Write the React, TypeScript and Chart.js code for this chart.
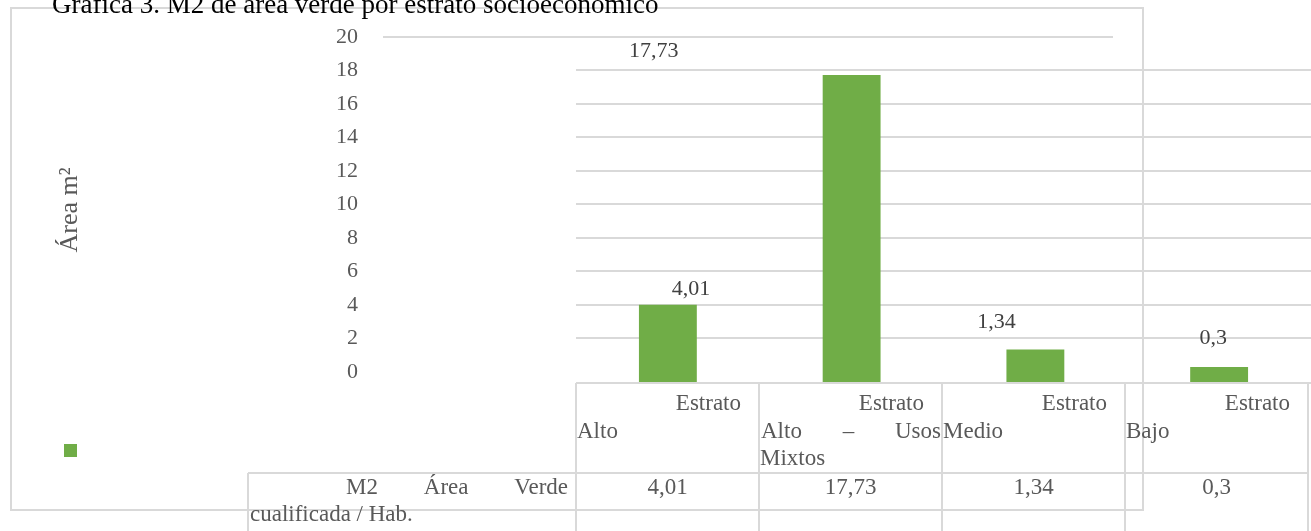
import React, { useEffect, useRef } from 'react';
import { Chart, registerables } from 'chart.js';

Chart.register(...registerables);

// ---- data ----
const TITLE = 'Gráfica 3. M2 de área verde por estrato socioeconómico';
const Y_TITLE = 'Área m²';
const CATEGORIES: string[][] = [
  ['Estrato', 'Alto'],
  ['Estrato', 'Alto – Usos', 'Mixtos'],
  ['Estrato', 'Medio'],
  ['Estrato', 'Bajo'],
];
const SERIES_NAME: string[] = ['M2 Área Verde', 'cualificada / Hab.'];
const VALUES: number[] = [4.01, 17.73, 1.34, 0.3];
const Y_TICKS: number[] = [0, 2, 4, 6, 8, 10, 12, 14, 16, 18, 20];
const Y_MIN = -0.66;
const Y_MAX = 20;

// ---- styling ----
const FONT = "'Liberation Serif', 'Times New Roman', serif";
const TEXT = '#595959';
const LABEL_TEXT = '#404040';
const GRID = '#d9d9d9';
const BAR = '#70AD47';
const LABEL_OFFSETS: number[][] = [[23, -16], [-198, -24], [-39, -27], [-6, -29]];

const fmt = (v: number) => String(v).replace('.', ',');

function justify(ctx: CanvasRenderingContext2D, text: string, x0: number, x1: number, y: number) {
  const words = text.split(' ');
  const widths = words.map((w) => ctx.measureText(w).width);
  const total = widths.reduce((a, b) => a + b, 0);
  const gap = words.length > 1 ? (x1 - x0 - total) / (words.length - 1) : 0;
  let x = x0;
  ctx.textAlign = 'left';
  words.forEach((w, i) => {
    ctx.fillText(w, x, y);
    x += widths[i] + gap;
  });
}

const framePlugin = {
  id: 'framePlugin',
  afterDraw(chart: any) {
    const ctx: CanvasRenderingContext2D = chart.ctx;
    const { left, bottom } = chart.chartArea;
    const yScale = chart.scales.y;
    const cellW = 183;
    const W = chart.width;
    const H = chart.height;
    ctx.save();

    // top gridline (value 20), offset as in the reference
    ctx.strokeStyle = GRID;
    ctx.lineWidth = 2;
    const y20 = Math.round(yScale.getPixelForValue(Y_MAX));
    ctx.beginPath();
    ctx.moveTo(383, y20);
    ctx.lineTo(1113, y20);
    ctx.stroke();

    // outer frame
    ctx.strokeRect(11, 8, 1132, 502);

    // data table
    const rowY = 473;
    ctx.beginPath();
    ctx.moveTo(left, bottom);
    ctx.lineTo(W, bottom);
    ctx.moveTo(248, rowY);
    ctx.lineTo(left + cellW * 4, rowY);
    for (let i = 0; i <= 4; i++) {
      const x = left + i * cellW;
      ctx.moveTo(x, bottom);
      ctx.lineTo(x, H);
    }
    ctx.moveTo(248, rowY);
    ctx.lineTo(248, H);
    ctx.stroke();

    ctx.fillStyle = TEXT;
    ctx.font = `23px ${FONT}`;
    ctx.textBaseline = 'middle';
    CATEGORIES.forEach((lines, i) => {
      const x0 = left + i * cellW;
      const x1 = x0 + cellW;
      lines.forEach((line, j) => {
        const y = 404 + (j === 0 ? 0 : 28 + (j - 1) * 27);
        if (j === 0) {
          ctx.textAlign = 'right';
          ctx.fillText(line, x1 - 18, y);
        } else if (j < lines.length - 1) {
          justify(ctx, line, x0 + 2, x1 - 1, y);
        } else {
          ctx.textAlign = 'left';
          ctx.fillText(line, x0 + 1, y);
        }
      });
      ctx.textAlign = 'center';
      ctx.fillText(fmt(VALUES[i]), x0 + cellW / 2, 488);
    });
    justify(ctx, SERIES_NAME[0], 346, 568, 488);
    ctx.textAlign = 'left';
    ctx.fillText(SERIES_NAME[1], 250, 515);

    // legend key
    ctx.fillStyle = BAR;
    ctx.fillRect(64, 444, 13, 13);

    // data labels
    const meta = chart.getDatasetMeta(0);
    ctx.fillStyle = LABEL_TEXT;
    ctx.font = `22px ${FONT}`;
    ctx.textAlign = 'center';
    ctx.textBaseline = 'middle';
    meta.data.forEach((bar: any, i: number) => {
      const off = LABEL_OFFSETS[i];
      ctx.fillText(fmt(VALUES[i]), bar.x + off[0], bar.y + off[1]);
    });

    // title (cropped at the top as in the reference)
    ctx.fillStyle = '#000';
    ctx.font = `27px ${FONT}`;
    ctx.textAlign = 'left';
    ctx.textBaseline = 'alphabetic';
    ctx.fillText(TITLE, 52, 13);

    ctx.restore();
  },
};

export default function App() {
  const ref = useRef<HTMLCanvasElement>(null);
  useEffect(() => {
    const chart = new Chart(ref.current as HTMLCanvasElement, {
      type: 'bar',
      data: {
        labels: CATEGORIES,
        datasets: [
          {
            label: SERIES_NAME.join(' '),
            data: VALUES,
            backgroundColor: BAR,
            borderWidth: 0,
            base: Y_MIN,
            barPercentage: 0.315,
            categoryPercentage: 1,
          } as any,
        ],
      },
      options: {
        animation: false,
        responsive: false,
        devicePixelRatio: 1,
        layout: { padding: { left: 0, top: 37, right: 0, bottom: 148 } },
        plugins: { legend: { display: false }, tooltip: { enabled: false }, title: { display: false } },
        scales: {
          x: { display: false, grid: { display: false } },
          y: {
            min: Y_MIN,
            max: Y_MAX,
            afterBuildTicks: (s: any) => {
              s.ticks = Y_TICKS.map((v) => ({ value: v }));
            },
            afterFit: (s: any) => {
              s.width = 576;
              s.paddingTop = 0;
              s.paddingBottom = 0;
            },
            border: { display: false },
            grid: {
              drawTicks: false,
              lineWidth: 2,
              color: (c: any) =>
                c.tick && (c.tick.value === Y_MAX || c.tick.value === 0) ? 'rgba(0,0,0,0)' : GRID,
            },
            ticks: { padding: 218, color: TEXT, font: { family: FONT, size: 22 } },
            title: {
              display: true,
              text: Y_TITLE,
              color: TEXT,
              font: { family: FONT, size: 26 },
              padding: { top: 55, bottom: 0 },
            },
          },
        },
      },
      plugins: [framePlugin],
    });
    return () => chart.destroy();
  }, []);
  return (
    <div style={{ position: 'fixed', left: 0, top: 0, width: 1311, height: 531, background: '#fff' }}>
      <canvas ref={ref} width={1311} height={531} style={{ display: 'block', width: 1311, height: 531 }} />
    </div>
  );
}
